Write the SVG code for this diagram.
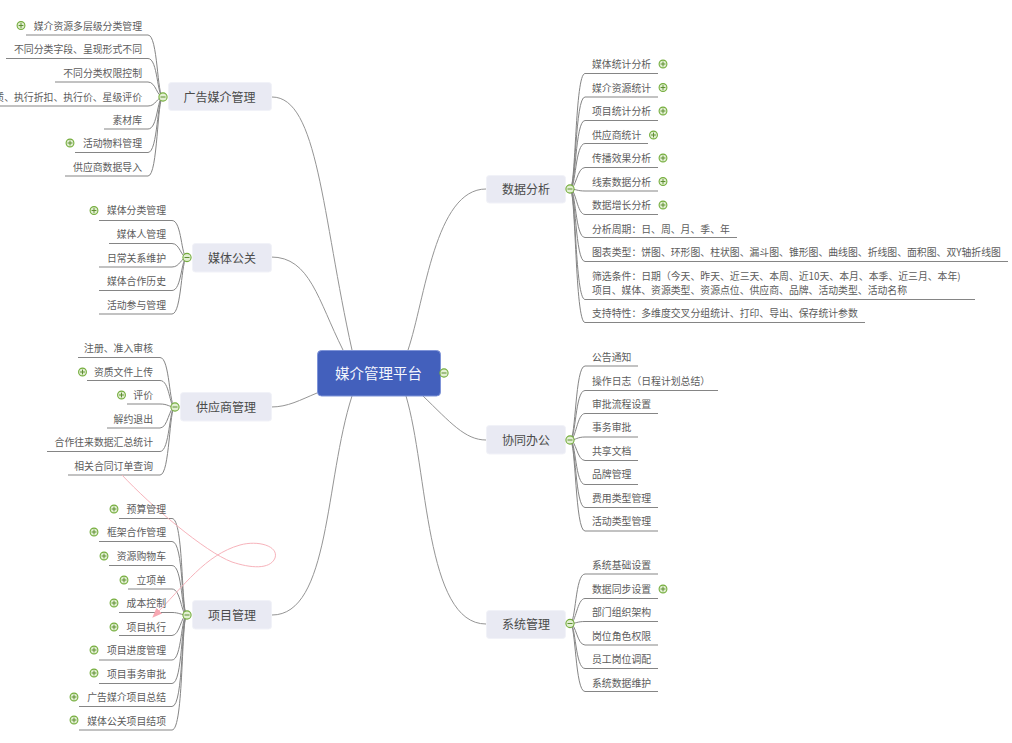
<svg xmlns="http://www.w3.org/2000/svg" width="1012" height="743" viewBox="0 0 1012 743">
<style>
text{font-family:"Noto Sans CJK SC","Liberation Sans",sans-serif}
.l{font-size:9.85px;fill:#5c5c5c}
.e{text-anchor:end}
.g{font-size:12px;fill:#4a4a4a;text-anchor:middle}
.r{font-size:14.5px;fill:#f4f6fc;text-anchor:middle}
.b{fill:#e9eaf3;stroke:#f1f2f8;stroke-width:1}
.c{fill:none;stroke:#858585;stroke-width:1}
.m{fill:none;stroke:#959595;stroke-width:1}
.rel{fill:none;stroke:#f7b3bb;stroke-width:1}
</style>
<defs>
<g id="plus"><circle r="3.9" fill="#e2efd2" stroke="#74ad3c" stroke-width="1.1"/><path d="M-2.4 0H2.4M0-2.4V2.4" stroke="#5f8f33" stroke-width="1"/></g>
<g id="minus"><circle r="4.1" fill="#e2efd2" stroke="#74ad3c" stroke-width="1.1"/><path d="M-2.5 0H2.5" stroke="#5f8f33" stroke-width="1"/></g>
<marker id="arr" markerWidth="10" markerHeight="8" refX="9" refY="4" orient="auto" markerUnits="userSpaceOnUse"><path d="M0 0L10 4L0 8Z" fill="#f7a8b2"/></marker>
</defs>
<rect width="1012" height="743" fill="#fff"/>
<g id="connectors">
<path class="m" d="M272 97C318 97 322 215 352 350"/>
<path class="m" d="M271 257C310 257 318 300 343 350"/>
<path class="m" d="M271 407C288 407 300 400 317 393"/>
<path class="m" d="M272 615C330 615 325 480 352 396"/>
<path class="m" d="M486 189C435 189 425 300 408 350"/>
<path class="m" d="M486 440C465 440 450 422 423 396"/>
<path class="m" d="M486 624C425 624 428 470 406 396"/>
<path class="c" d="M26 35H148C158 35 157 97 163 97"/>
<path class="c" d="M6 58.500H148C158 58.500 157 97 163 97"/>
<path class="c" d="M55 82H148C156 82 157 97 163 97"/>
<path class="c" d="M0 106H148C156 106 157 97 163 97"/>
<path class="c" d="M104 129H148C158 129 157 97 163 97"/>
<path class="c" d="M75 152.500H148C158 152.500 157 97 163 97"/>
<path class="c" d="M65 176H148C158 176 157 97 163 97"/>
<path class="c" d="M99 220.500H172C182 220.500 181 257.500 187 257.500"/>
<path class="c" d="M109 243.500H172C180 243.500 181 257.500 187 257.500"/>
<path class="c" d="M99 267H172C180 267 181 257.500 187 257.500"/>
<path class="c" d="M99 290.500H172C182 290.500 181 257.500 187 257.500"/>
<path class="c" d="M99 314H172C182 314 181 257.500 187 257.500"/>
<path class="c" d="M78 357.500H160C170 357.500 169 407 175 407"/>
<path class="c" d="M87 380.500H160C170 380.500 169 407 175 407"/>
<path class="c" d="M127 404H160C168 404 169 407 175 407"/>
<path class="c" d="M107 428H160C168 428 169 407 175 407"/>
<path class="c" d="M47 451.500H160C170 451.500 169 407 175 407"/>
<path class="c" d="M68 475H160C170 475 169 407 175 407"/>
<path class="c" d="M119 518.500H172C184 518.500 181 615 187 615"/>
<path class="c" d="M99 541.500H172C184 541.500 181 615 187 615"/>
<path class="c" d="M109 565.500H172C183 565.500 181 615 187 615"/>
<path class="c" d="M128 589H172C181 589 181 615 187 615"/>
<path class="c" d="M119 612.500H172C179 612.500 181 615 187 615"/>
<path class="c" d="M119 635.500H172C180 635.500 181 615 187 615"/>
<path class="c" d="M99 660H172C182 660 181 615 187 615"/>
<path class="c" d="M99 683.500H172C183 683.500 181 615 187 615"/>
<path class="c" d="M79 706.500H172C184 706.500 181 615 187 615"/>
<path class="c" d="M79 730H172C184 730 181 615 187 615"/>
<path class="c" d="M658 73.500H585C575 73.500 576 189 570 189"/>
<path class="c" d="M658 97H585C575 97 576 189 570 189"/>
<path class="c" d="M658 120.500H585C575 120.500 576 189 570 189"/>
<path class="c" d="M648 143.500H585C575 143.500 576 189 570 189"/>
<path class="c" d="M658 167.500H585C577 167.500 576 189 570 189"/>
<path class="c" d="M658 191H585C577 191 576 189 570 189"/>
<path class="c" d="M658 214.500H585C577 214.500 576 189 570 189"/>
<path class="c" d="M737 237.500H585C575 237.500 576 189 570 189"/>
<path class="c" d="M1008 261.500H585C575 261.500 576 189 570 189"/>
<path class="c" d="M975 299.500H585C575 299.500 576 189 570 189"/>
<path class="c" d="M865 322.500H585C575 322.500 576 189 570 189"/>
<path class="c" d="M638 366H585C575 366 576 440 570 440"/>
<path class="c" d="M718 390.500H585C575 390.500 576 440 570 440"/>
<path class="c" d="M658 413.500H585C577 413.500 576 440 570 440"/>
<path class="c" d="M638 437H585C577 437 576 440 570 440"/>
<path class="c" d="M638 460.500H585C577 460.500 576 440 570 440"/>
<path class="c" d="M638 484.500H585C575 484.500 576 440 570 440"/>
<path class="c" d="M658 507.500H585C575 507.500 576 440 570 440"/>
<path class="c" d="M658 531H585C575 531 576 440 570 440"/>
<path class="c" d="M658 574H585C575 574 576 623.500 570 623.500"/>
<path class="c" d="M658 598.500H585C577 598.500 576 623.500 570 623.500"/>
<path class="c" d="M658 621.500H585C577 621.500 576 623.500 570 623.500"/>
<path class="c" d="M658 645H585C577 645 576 623.500 570 623.500"/>
<path class="c" d="M658 668.500H585C575 668.500 576 623.500 570 623.500"/>
<path class="c" d="M658 691.500H585C575 691.500 576 623.500 570 623.500"/>
<path class="rel" marker-end="url(#arr)" d="M122 475C150 505 205 552 232 562C250 568 270 570 275 558C279 546 258 540 240 545C205 555 185 585 153 617"/>
</g>
<g id="root"><rect x="317.500" y="350.500" width="123" height="45.500" rx="4" fill="#4360bc" stroke="#7f94d8"/><text class="r" x="378.500" y="378.500">媒介管理平台</text><use href="#minus" x="444" y="373"/></g>
<g id="n-ads"><rect class="b" x="168.500" y="82.500" width="103" height="28" rx="3"/><text class="g" x="219.500" y="101.500">广告媒介管理</text><use href="#minus" x="163" y="97"/></g>
<g id="n-ads-1"><text class="l e" x="142" y="30">媒介资源多层级分类管理</text><use href="#plus" x="21" y="25.500"/></g>
<g id="n-ads-2"><text class="l e" x="142" y="53">不同分类字段、呈现形式不同</text></g>
<g id="n-ads-3"><text class="l e" x="142" y="77">不同分类权限控制</text></g>
<g id="n-ads-4"><text class="l e" x="142" y="100.500">质、执行折扣、执行价、星级评价</text></g>
<g id="n-ads-5"><text class="l e" x="142" y="124">素材库</text></g>
<g id="n-ads-6"><text class="l e" x="142" y="147">活动物料管理</text><use href="#plus" x="70" y="143"/></g>
<g id="n-ads-7"><text class="l e" x="142" y="171">供应商数据导入</text></g>
<g id="n-pr"><rect class="b" x="192.500" y="243.500" width="79" height="28.500" rx="3"/><text class="g" x="232" y="262.500">媒体公关</text><use href="#minus" x="187" y="257.500"/></g>
<g id="n-pr-1"><text class="l e" x="166" y="214">媒体分类管理</text><use href="#plus" x="94" y="210.500"/></g>
<g id="n-pr-2"><text class="l e" x="166" y="238">媒体人管理</text></g>
<g id="n-pr-3"><text class="l e" x="166" y="261.500">日常关系维护</text></g>
<g id="n-pr-4"><text class="l e" x="166" y="285">媒体合作历史</text></g>
<g id="n-pr-5"><text class="l e" x="166" y="308.500">活动参与管理</text></g>
<g id="n-sup"><rect class="b" x="180.500" y="392.500" width="91" height="28.500" rx="3"/><text class="g" x="226" y="411.500">供应商管理</text><use href="#minus" x="175" y="407"/></g>
<g id="n-sup-1"><text class="l e" x="153" y="352">注册、准入审核</text></g>
<g id="n-sup-2"><text class="l e" x="153" y="375.500">资质文件上传</text><use href="#plus" x="82.500" y="372"/></g>
<g id="n-sup-3"><text class="l e" x="153" y="399">评价</text><use href="#plus" x="121.500" y="395"/></g>
<g id="n-sup-4"><text class="l e" x="153" y="423">解约退出</text></g>
<g id="n-sup-5"><text class="l e" x="153" y="446">合作往来数据汇总统计</text></g>
<g id="n-sup-6"><text class="l e" x="153" y="469.500">相关合同订单查询</text></g>
<g id="n-prj"><rect class="b" x="192.500" y="600.500" width="79" height="28.500" rx="3"/><text class="g" x="232" y="619.500">项目管理</text><use href="#minus" x="187" y="615"/></g>
<g id="n-prj-1"><text class="l e" x="166" y="513">预算管理</text><use href="#plus" x="114" y="509"/></g>
<g id="n-prj-2"><text class="l e" x="166" y="536">框架合作管理</text><use href="#plus" x="94" y="532"/></g>
<g id="n-prj-3"><text class="l e" x="166" y="560">资源购物车</text><use href="#plus" x="104" y="556"/></g>
<g id="n-prj-4"><text class="l e" x="166" y="583.500">立项单</text><use href="#plus" x="124" y="580"/></g>
<g id="n-prj-5"><text class="l e" x="166" y="607">成本控制</text><use href="#plus" x="114" y="603"/></g>
<g id="n-prj-6"><text class="l e" x="166" y="630.500">项目执行</text><use href="#plus" x="114" y="627"/></g>
<g id="n-prj-7"><text class="l e" x="166" y="654">项目进度管理</text><use href="#plus" x="94" y="650"/></g>
<g id="n-prj-8"><text class="l e" x="166" y="677.500">项目事务审批</text><use href="#plus" x="94" y="673"/></g>
<g id="n-prj-9"><text class="l e" x="166" y="701">广告媒介项目总结</text><use href="#plus" x="74" y="697"/></g>
<g id="n-prj-10"><text class="l e" x="166" y="724.500">媒体公关项目结项</text><use href="#plus" x="74" y="720"/></g>
<g id="n-data"><rect class="b" x="486.500" y="175.500" width="79" height="27.500" rx="3"/><text class="g" x="526" y="193.500">数据分析</text><use href="#minus" x="570" y="189"/></g>
<g id="n-data-1"><text class="l" x="592" y="68">媒体统计分析</text><use href="#plus" x="663" y="64"/></g>
<g id="n-data-2"><text class="l" x="592" y="91.500">媒介资源统计</text><use href="#plus" x="663" y="87.500"/></g>
<g id="n-data-3"><text class="l" x="592" y="115">项目统计分析</text><use href="#plus" x="663" y="111"/></g>
<g id="n-data-4"><text class="l" x="592" y="138.500">供应商统计</text><use href="#plus" x="653.500" y="135"/></g>
<g id="n-data-5"><text class="l" x="592" y="162">传播效果分析</text><use href="#plus" x="663" y="158"/></g>
<g id="n-data-6"><text class="l" x="592" y="185.500">线索数据分析</text><use href="#plus" x="663" y="181.500"/></g>
<g id="n-data-7"><text class="l" x="592" y="209">数据增长分析</text><use href="#plus" x="663" y="205"/></g>
<g id="n-data-8"><text class="l" x="592" y="232.500">分析周期：日、周、月、季、年</text></g>
<g id="n-data-9"><text class="l" x="592" y="256">图表类型：饼图、环形图、柱状图、漏斗图、锥形图、曲线图、折线图、面积图、双Y轴折线图</text></g>
<g id="n-data-10"><text class="l" x="592" y="280">筛选条件：日期（今天、昨天、近三天、本周、近10天、本月、本季、近三月、本年)</text><text class="l" x="592" y="294">项目、媒体、资源类型、资源点位、供应商、品牌、活动类型、活动名称</text></g>
<g id="n-data-11"><text class="l" x="592" y="317">支持特性：多维度交叉分组统计、打印、导出、保存统计参数</text></g>
<g id="n-off"><rect class="b" x="486.500" y="425.500" width="79" height="28.500" rx="3"/><text class="g" x="526" y="444.500">协同办公</text><use href="#minus" x="570" y="440"/></g>
<g id="n-off-1"><text class="l" x="592" y="361">公告通知</text></g>
<g id="n-off-2"><text class="l" x="592" y="384.500">操作日志（日程计划总结）</text></g>
<g id="n-off-3"><text class="l" x="592" y="407.500">审批流程设置</text></g>
<g id="n-off-4"><text class="l" x="592" y="431">事务审批</text></g>
<g id="n-off-5"><text class="l" x="592" y="454.500">共享文档</text></g>
<g id="n-off-6"><text class="l" x="592" y="478">品牌管理</text></g>
<g id="n-off-7"><text class="l" x="592" y="501.500">费用类型管理</text></g>
<g id="n-off-8"><text class="l" x="592" y="525">活动类型管理</text></g>
<g id="n-sys"><rect class="b" x="486.500" y="610.500" width="79" height="28" rx="3"/><text class="g" x="526" y="628.500">系统管理</text><use href="#minus" x="570" y="623.500"/></g>
<g id="n-sys-1"><text class="l" x="592" y="568.500">系统基础设置</text></g>
<g id="n-sys-2"><text class="l" x="592" y="592.500">数据同步设置</text><use href="#plus" x="663" y="589"/></g>
<g id="n-sys-3"><text class="l" x="592" y="616">部门组织架构</text></g>
<g id="n-sys-4"><text class="l" x="592" y="639.500">岗位角色权限</text></g>
<g id="n-sys-5"><text class="l" x="592" y="663">员工岗位调配</text></g>
<g id="n-sys-6"><text class="l" x="592" y="686.500">系统数据维护</text></g>
</svg>
